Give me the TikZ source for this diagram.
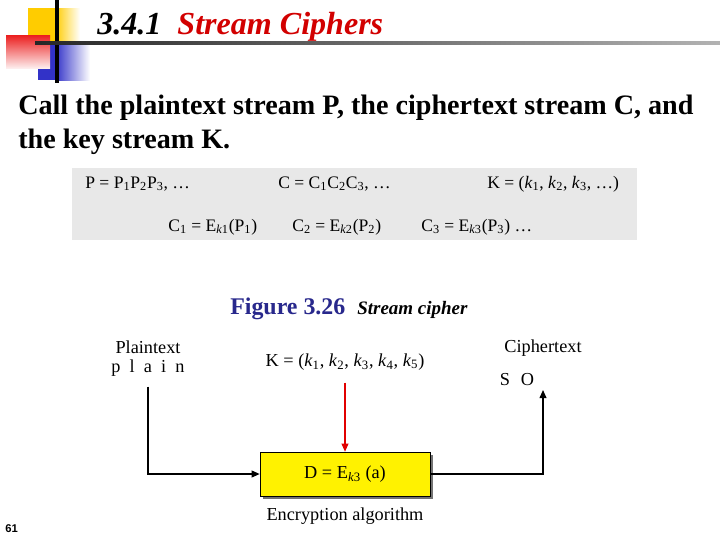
\documentclass[tikz,border=0pt]{standalone}
\usepackage{fontspec}
\setmainfont{Liberation Serif}
\newfontfamily\pagenumfont{Liberation Sans}
\usetikzlibrary{arrows.meta,positioning,shadows}
\definecolor{titlered}{RGB}{210,0,0}
\definecolor{figblue}{RGB}{40,40,140}
\definecolor{panelgray}{RGB}{232,232,232}
\definecolor{keyred}{RGB}{225,0,0}
\definecolor{decoyellow}{RGB}{255,204,0}
\definecolor{decored}{RGB}{235,30,30}
\definecolor{decoblue}{RGB}{50,50,200}
\newcommand{\lo}[1]{\textsubscript{#1}}
\tikzset{
 formula/.style={anchor=base west,inner sep=0pt,font=\fontsize{12.5}{14}\selectfont},
 intro/.style={anchor=base west,inner sep=0pt,font=\fontsize{20}{23}\selectfont\bfseries},
 lbl/.style={inner sep=0pt,font=\fontsize{13}{15}\selectfont},
 encbox/.style={draw,fill=yellow,minimum width=4.25cm,minimum height=1.1cm,
             font=\fontsize{13}{15}\selectfont,
             drop shadow={opacity=1,fill=black!55,shadow xshift=0.08cm,shadow yshift=-0.08cm}},
 flow/.style={-{Triangle[length=2mm,width=1.7mm]},line width=0.9pt},
 keyflow/.style={-{Triangle[length=2mm,width=1.7mm]},line width=0.9pt,draw=keyred}
}
\begin{document}
\begin{tikzpicture}[x=0.025cm,y=-0.025cm]
\useasboundingbox (0,0) rectangle (720,540);
% slide decoration
\fill[decoyellow] (28,8) rectangle (55,45);
\shade[left color=decoyellow,right color=white] (55,8) rectangle (80,45);
\fill[decoblue] (38,45) rectangle (55,80);
\shade[left color=decoblue,right color=white] (55,45) rectangle (90,80);
\shade[top color=decored,bottom color=decored!8] (6,35) rectangle (50,68);
\draw[line width=2.2pt] (57,0) -- (57,83);
\shade[left color=black!85,right color=black!30] (35,41.8) rectangle (720,44.6);
% title and text
\node[anchor=base west,inner sep=0pt,font=\fontsize{22.8}{26}\selectfont\bfseries\itshape] (title) at (97,34)
  {3.4.1\ \ \textcolor{titlered}{Stream Ciphers}};
\node[intro] (intro1) at (18,114) {Call the plaintext stream P, the ciphertext stream C, and};
\node[intro] (intro2) at (18,148) {the key stream K.};
% formula panel
\node[fill=panelgray,minimum width=14.125cm,minimum height=1.8cm,inner sep=0pt] (panel) at (354.5,204) {};
\node[formula] (pdef) at (85,188) {P = P\lo{1}P\lo{2}P\lo{3}, \dots};
\node[formula] (cdef) at (278,188) {C = C\lo{1}C\lo{2}C\lo{3}, \dots};
\node[formula] (kdef) at (487,188) {K = (\textit{k}\lo{1}, \textit{k}\lo{2}, \textit{k}\lo{3}, \dots)};
\node[formula] (cone) at (168,231) {C\lo{1} = E\lo{\textit{k}1}(P\lo{1})};
\node[formula] (ctwo) at (292,231) {C\lo{2} = E\lo{\textit{k}2}(P\lo{2})};
\node[formula] (cthree) at (421,231) {C\lo{3} = E\lo{\textit{k}3}(P\lo{3}) \dots};
% caption
\node[anchor=base west,inner sep=0pt,font=\fontsize{17}{20}\selectfont\bfseries,text=figblue] (fig) at (230,314) {Figure 3.26};
\node[anchor=base west,inner sep=0pt,font=\fontsize{13.5}{15}\selectfont\bfseries\itshape] (figname) at (357,314) {Stream cipher};
% stream cipher diagram
\node[encbox] (enc) at (345,474) {D = E\lo{\textit{k}3} (a)};
\node[lbl] (plain) at (148,347) {Plaintext};
\node[lbl] (pchars) at (148,368) {p\hspace{0.5em}l\hspace{0.5em}a\hspace{0.5em}i\hspace{0.5em}n};
\node[lbl] (key) at (345,362) {K = (\textit{k}\lo{1}, \textit{k}\lo{2}, \textit{k}\lo{3}, \textit{k}\lo{4}, \textit{k}\lo{5})};
\node[lbl] (cipher) at (543,348) {Ciphertext};
\node[lbl] (cchars) at (517,380) {S\hspace{0.6em}O};
\node[lbl] (alg) at (345,516) {Encryption algorithm};
\coordinate (cout) at (543,390);
\draw[flow] (pchars.south) ++(0,10) |- (enc.west);
\draw[keyflow] (key.south) ++(0,12) -- (enc.north);
\draw[flow] (enc.east) -| (cout);
\node[anchor=base west,inner sep=0pt,font=\pagenumfont\bfseries\fontsize{8}{10}\selectfont] (pagenum) at (5,532) {61};
\end{tikzpicture}
\end{document}
